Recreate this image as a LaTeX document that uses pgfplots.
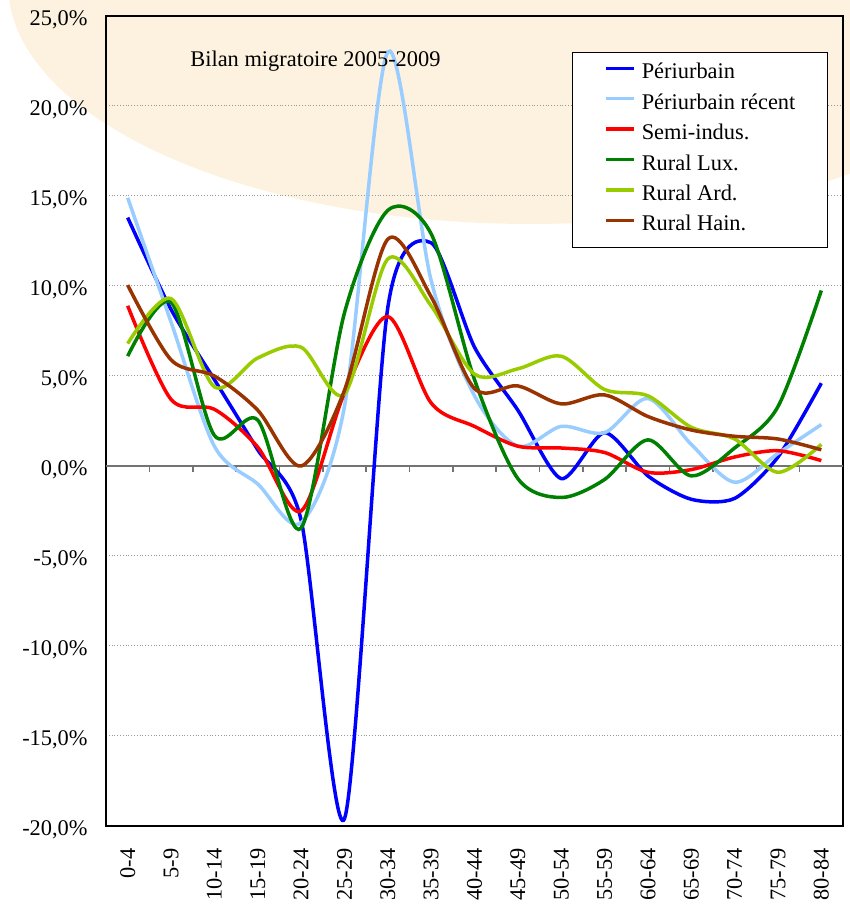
\documentclass[border=0pt]{standalone}
\usepackage{fontspec}
\setmainfont{Liberation Serif}
\usepackage{pgfplots}
\pgfplotsset{compat=1.18}

\definecolor{cBlue}{RGB}{0,0,255}
\definecolor{cLBlue}{RGB}{153,204,255}
\definecolor{cRed}{RGB}{255,0,0}
\definecolor{cGreen}{RGB}{0,128,0}
\definecolor{cYGreen}{RGB}{153,204,0}
\definecolor{cBrown}{RGB}{153,51,0}
\definecolor{beige}{RGB}{253,242,223}

\newcommand{\lbl}{\fontsize{11.2}{13}\selectfont}

\begin{document}
\begin{tikzpicture}
\useasboundingbox (0,0) rectangle (425pt,454.5pt);
\begin{scope}
\clip (0,0) rectangle (425pt,454.5pt);
\fill[beige] (265pt,462.5pt) ellipse [x radius=261pt, y radius=120pt];
\end{scope}
\begin{axis}[
  at={(53pt,41.5pt)}, anchor=south west,
  scale only axis, width=368.5pt, height=405pt,
  xmin=-0.5, xmax=16.5, ymin=-20, ymax=25,
  font=\lbl,
  axis line style={black, line width=0.6pt},
  xtick={0,...,16},
  xticklabels={0-4,5-9,10-14,15-19,20-24,25-29,30-34,35-39,40-44,45-49,50-54,55-59,60-64,65-69,70-74,75-79,80-84},
  xticklabel style={rotate=90, anchor=east, inner sep=0pt},
  xticklabel shift=11pt,
  ytick={-20,-15,...,25},
  major tick length=0pt,
  yticklabel={\pgfmathprintnumber[fixed,fixed zerofill,precision=1,use comma,assume math mode=true]{\tick}\%},
  yticklabel style={inner sep=0pt, anchor=east, yshift=-2pt},
  yticklabel shift=9pt,
  ymajorgrids, grid style={gray!80, densely dotted, line width=0.5pt},
  legend style={at={(axis description cs:0.632,0.956)}, anchor=north west,
    draw=black, line width=0.5pt, fill=white, font=\lbl,
    inner xsep=16pt, inner ysep=5.9pt, row sep=5.2pt, column sep=3pt,
    nodes={inner sep=0pt, text height=7.5pt, text depth=2.5pt}},
  legend cell align=left,
  legend image code/.code={\draw[#1] (0pt,2.8pt) -- (14pt,2.8pt);},
  every axis plot/.append style={smooth, line width=1.75pt},
]
% y ticks, outside on the left
\pgfplotsinvokeforeach{-20,-15,-10,-5,0,5,10,15,20,25}{
  \draw[black, line width=0.6pt] (axis cs:-0.5,#1) -- ++(-3pt,0pt);
}
% zero line with ticks between categories
\draw[gray!90!black, line width=1pt] (axis cs:-0.5,0) -- (axis cs:16.5,0);
\pgfplotsinvokeforeach{0.5,1.5,2.5,3.5,4.5,5.5,6.5,7.5,8.5,9.5,10.5,11.5,12.5,13.5,14.5,15.5}{
  \draw[gray!90!black, line width=0.8pt] (axis cs:#1,0) -- ++(0pt,-3pt);
}
% Periurbain
\addplot[cBlue, tension=0.45] coordinates {(0,13.8) (1,8.7) (2,4.8) (3,0.9) (4,-3.0) (5,-19.6) (6,8.8) (7,12.4) (8,6.6) (9,3.1) (10,-0.7) (11,1.85) (12,-0.55) (13,-1.85) (14,-1.8) (15,0.5) (16,4.6)};
\addlegendentry{Périurbain}
% Periurbain recent
\addplot[cLBlue] coordinates {(0,14.9) (1,8.0) (2,1.1) (3,-1.0) (4,-3.15) (5,3.3) (6,23.0) (7,10.3) (8,3.9) (9,1.1) (10,2.2) (11,1.85) (12,3.75) (13,1.2) (14,-0.9) (15,0.7) (16,2.3)};
\addlegendentry{Périurbain récent}
% Semi-indus.
\addplot[cRed] coordinates {(0,8.9) (1,3.7) (2,3.15) (3,1.05) (4,-2.5) (5,4.05) (6,8.3) (7,3.5) (8,2.2) (9,1.1) (10,1.0) (11,0.75) (12,-0.35) (13,-0.2) (14,0.5) (15,0.85) (16,0.3)};
\addlegendentry{Semi-indus.}
% Rural Lux.
\addplot[cGreen] coordinates {(0,6.1) (1,9.1) (2,1.7) (3,2.55) (4,-3.45) (5,8.5) (6,14.2) (7,12.9) (8,4.8) (9,-0.7) (10,-1.75) (11,-0.75) (12,1.45) (13,-0.55) (14,1.0) (15,3.3) (16,9.75)};
\addlegendentry{Rural Lux.}
% Rural Ard.
\addplot[cYGreen] coordinates {(0,6.8) (1,9.3) (2,4.4) (3,6.0) (4,6.6) (5,4.0) (6,11.5) (7,8.9) (8,5.1) (9,5.4) (10,6.1) (11,4.25) (12,3.9) (13,2.15) (14,1.5) (15,-0.35) (16,1.2)};
\addlegendentry{Rural Ard.}
% Rural Hain.
\addplot[cBrown] coordinates {(0,10.05) (1,5.9) (2,5.0) (3,3.1) (4,0.0) (5,4.2) (6,12.6) (7,9.4) (8,4.3) (9,4.45) (10,3.45) (11,3.95) (12,2.75) (13,2.0) (14,1.65) (15,1.5) (16,0.9)};
\addlegendentry{Rural Hain.}
\end{axis}
\node[font=\lbl, anchor=base west, inner sep=0pt] at (95pt,421pt) {Bilan migratoire 2005-2009};
\end{tikzpicture}
\end{document}
